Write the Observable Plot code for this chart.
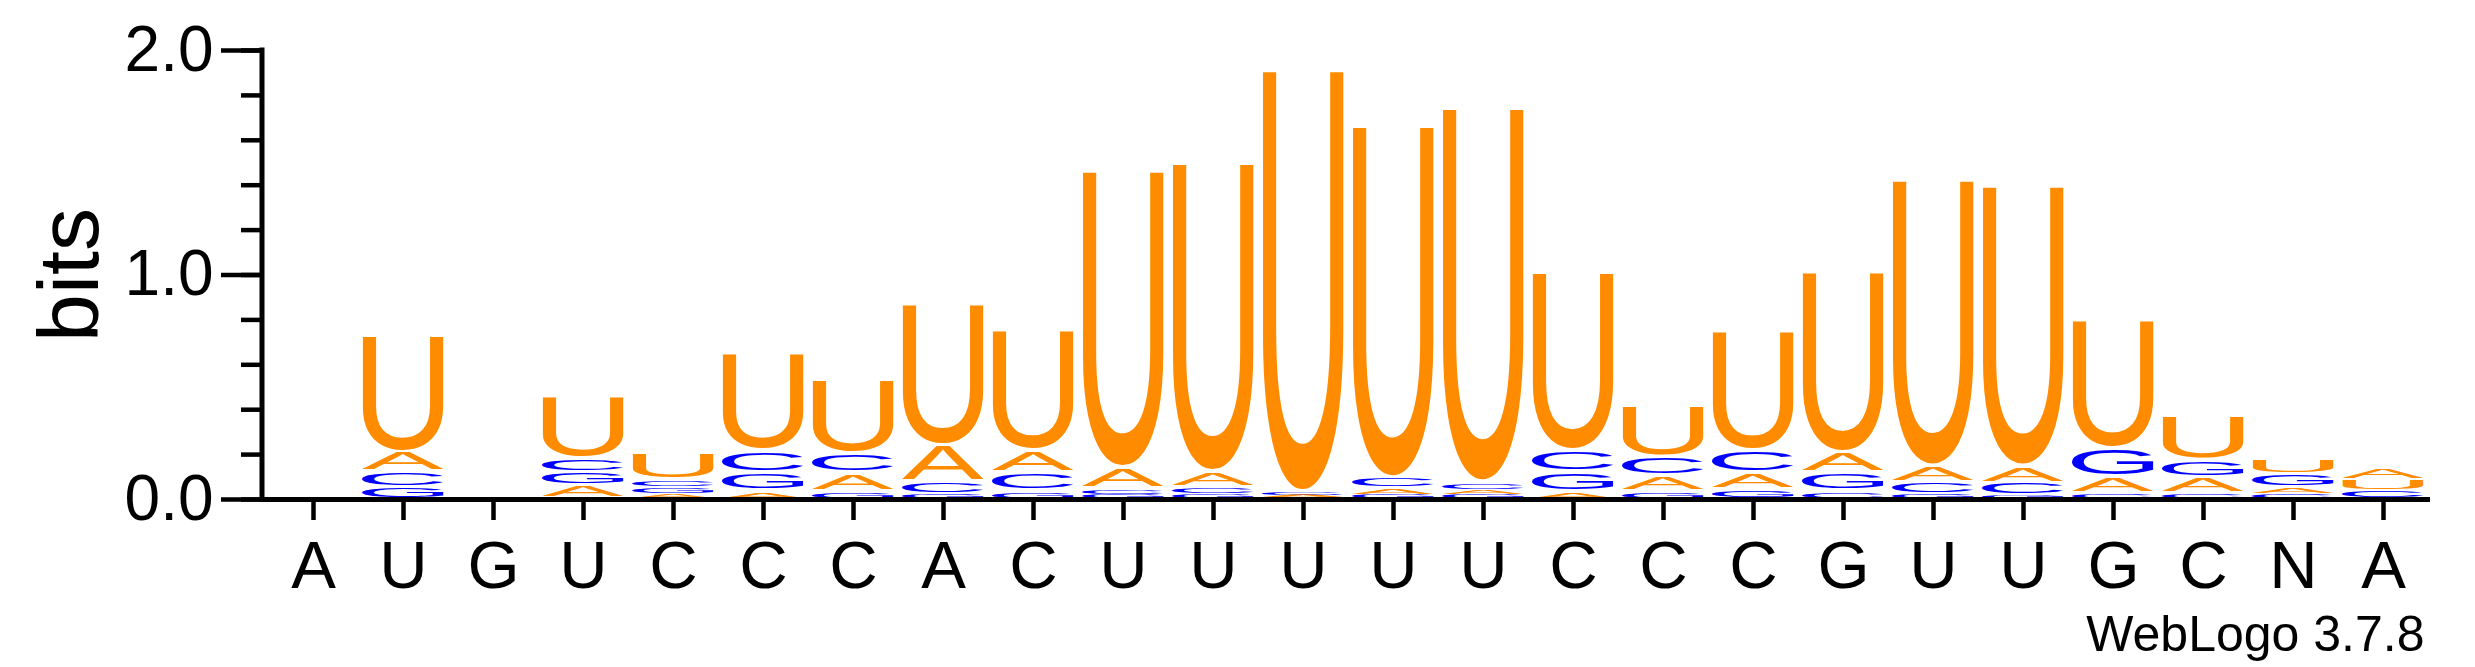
<!DOCTYPE html>
<html>
<head>
<meta charset="utf-8">
<script src="https://cdn.jsdelivr.net/npm/d3@7"></script>
<script src="https://cdn.jsdelivr.net/npm/@observablehq/plot@0.6"></script>
<style>
  body { margin: 0; background: #fff; }
  #logo { width: 2475px; height: 667px; }
</style>
</head>
<body>
<div id="logo"></div>
<script>
// sequence logo, 24 positions, heights in bits
const positions = d3.range(1, 25);
const consensus = ["A","U","G","U","C","C","C","A","C","U","U","U","U","U","C","C","C","G","U","U","G","C","N","A"];

const bitsA = [0.003, 0.09, 0.003, 0.057, 0.023, 0.03, 0.08, 0.164, 0.097, 0.093, 0.065, 0.01, 0.03, 0.022, 0.025, 0.066, 0.07, 0.09, 0.07, 0.072, 0.07, 0.07, 0.03, 0.05];
const bitsC = [0, 0.064, 0, 0.061, 0.03, 0.096, 0.085, 0.05, 0.082, 0.022, 0.027, 0.01, 0.04, 0.03, 0.092, 0.084, 0.1, 0.03, 0.05, 0.055, 0.02, 0.02, 0.02, 0.035];
const bitsG = [0, 0.05, 0, 0.058, 0.027, 0.08, 0.029, 0.02, 0.03, 0.018, 0.023, 0.006, 0.018, 0.018, 0.088, 0.03, 0.039, 0.08, 0.02, 0.013, 0.13, 0.075, 0.056, 0];
const bitsU = [0, 0.52, 0, 0.275, 0.12, 0.435, 0.327, 0.63, 0.536, 1.324, 1.377, 1.88, 1.569, 1.667, 0.791, 0.234, 0.53, 0.807, 1.277, 1.25, 0.573, 0.195, 0.068, 0.047];

const majorTicks = [0, 1, 2];
const minorTicks = [0, 0.2, 0.4, 0.6, 0.8, 1, 1.2, 1.4, 1.6, 1.8, 2];

const letterColors = {A: "#ff8c00", U: "#ff8c00", C: "#0000ff", G: "#0000ff"};
const glyphFont = "'Liberation Sans', Arial, sans-serif";

// ink box of each glyph at font-size 100, measured from the font itself
const ctx = document.createElement("canvas").getContext("2d");
ctx.font = `100px ${glyphFont}`;
const glyphBox = {};
for (const b of ["A", "C", "G", "U"]) {
  const m = ctx.measureText(b);
  glyphBox[b] = [-m.actualBoundingBoxLeft, m.actualBoundingBoxRight, -m.actualBoundingBoxDescent, m.actualBoundingBoxAscent];
}

const rows = [];
positions.forEach((p, i) => {
  for (const [base, arr] of [["A", bitsA], ["C", bitsC], ["G", bitsG], ["U", bitsU]]) {
    if (arr[i] > 0) rows.push({pos: p, base: base, bits: arr[i]});
  }
});

// swap every stacked rect for its letter, stretched to fill the rect
function drawLetters(index, scales, values, dimensions, context, next) {
  const g = next(index, scales, values, dimensions, context);
  const rects = Array.from(g.querySelectorAll("rect"));
  rects.forEach((r, k) => {
    const d = rows[index[k]];
    const x = +r.getAttribute("x"), w = +r.getAttribute("width");
    const y = +r.getAttribute("y"), h = +r.getAttribute("height");
    const gap = Math.min(4, h * 0.2);
    const hh = h - gap;
    const [x0, x1, y0, y1] = glyphBox[d.base];
    const t = document.createElementNS("http://www.w3.org/2000/svg", "text");
    t.setAttribute("font-size", 100);
    t.setAttribute("font-family", glyphFont);
    t.setAttribute("text-anchor", "start");
    t.setAttribute("fill", letterColors[d.base]);
    t.setAttribute("transform",
      `translate(${x},${y + hh}) scale(${w / (x1 - x0)},${hh / (y1 - y0)}) translate(${-x0},${y0})`);
    t.textContent = d.base;
    g.appendChild(t);
    r.remove();
  });
  return g;
}

const yAxisLine = (index, {y}, values, {marginLeft}) =>
  d3.create("svg:line")
    .attr("x1", marginLeft).attr("x2", marginLeft)
    .attr("y1", y(0)).attr("y2", y(2))
    .attr("stroke", "#000").attr("stroke-width", 5).attr("stroke-linecap", "square")
    .node();

const chart = Plot.plot({
  width: 2475,
  height: 667,
  marginTop: 50,
  marginBottom: 168,
  marginLeft: 262,
  marginRight: 45,
  style: {
    background: "#fff",
    color: "#000",
    fontFamily: "'Liberation Sans', Arial, Helvetica, sans-serif"
  },
  x: {type: "band", domain: positions, padding: 0, insetLeft: 4, label: null},
  y: {domain: [0, 2], label: null},
  marks: [
    Plot.barY(rows, Plot.stackY({order: "value"}, {
      x: "pos", y: "bits", fill: d => letterColors[d.base],
      insetLeft: 4, insetRight: 4, render: drawLetters
    })),
    Plot.ruleY([0], {strokeWidth: 5}),
    yAxisLine,
    Plot.axisY({ticks: minorTicks, tickSize: 21, strokeWidth: 4.5, tickFormat: () => "", label: null}),
    Plot.axisY({ticks: majorTicks, tickSize: 41, strokeWidth: 4.5, tickFormat: d3.format(".1f"),
      fontSize: 64, tickPadding: 8, label: null}),
    Plot.axisX({tickSize: 21, strokeWidth: 4.5, tickFormat: p => consensus[p - 1],
      fontSize: 67, tickPadding: 20, label: null}),
    Plot.text(["bits"], {frameAnchor: "left", textAnchor: "middle", dx: -192, rotate: -90, fontSize: 86}),
    Plot.text(["WebLogo 3.7.8"], {frameAnchor: "bottom-right", dx: -6, dy: 151, fontSize: 50, textAnchor: "end"})
  ]
});

document.getElementById("logo").appendChild(chart);
</script>
</body>
</html>
